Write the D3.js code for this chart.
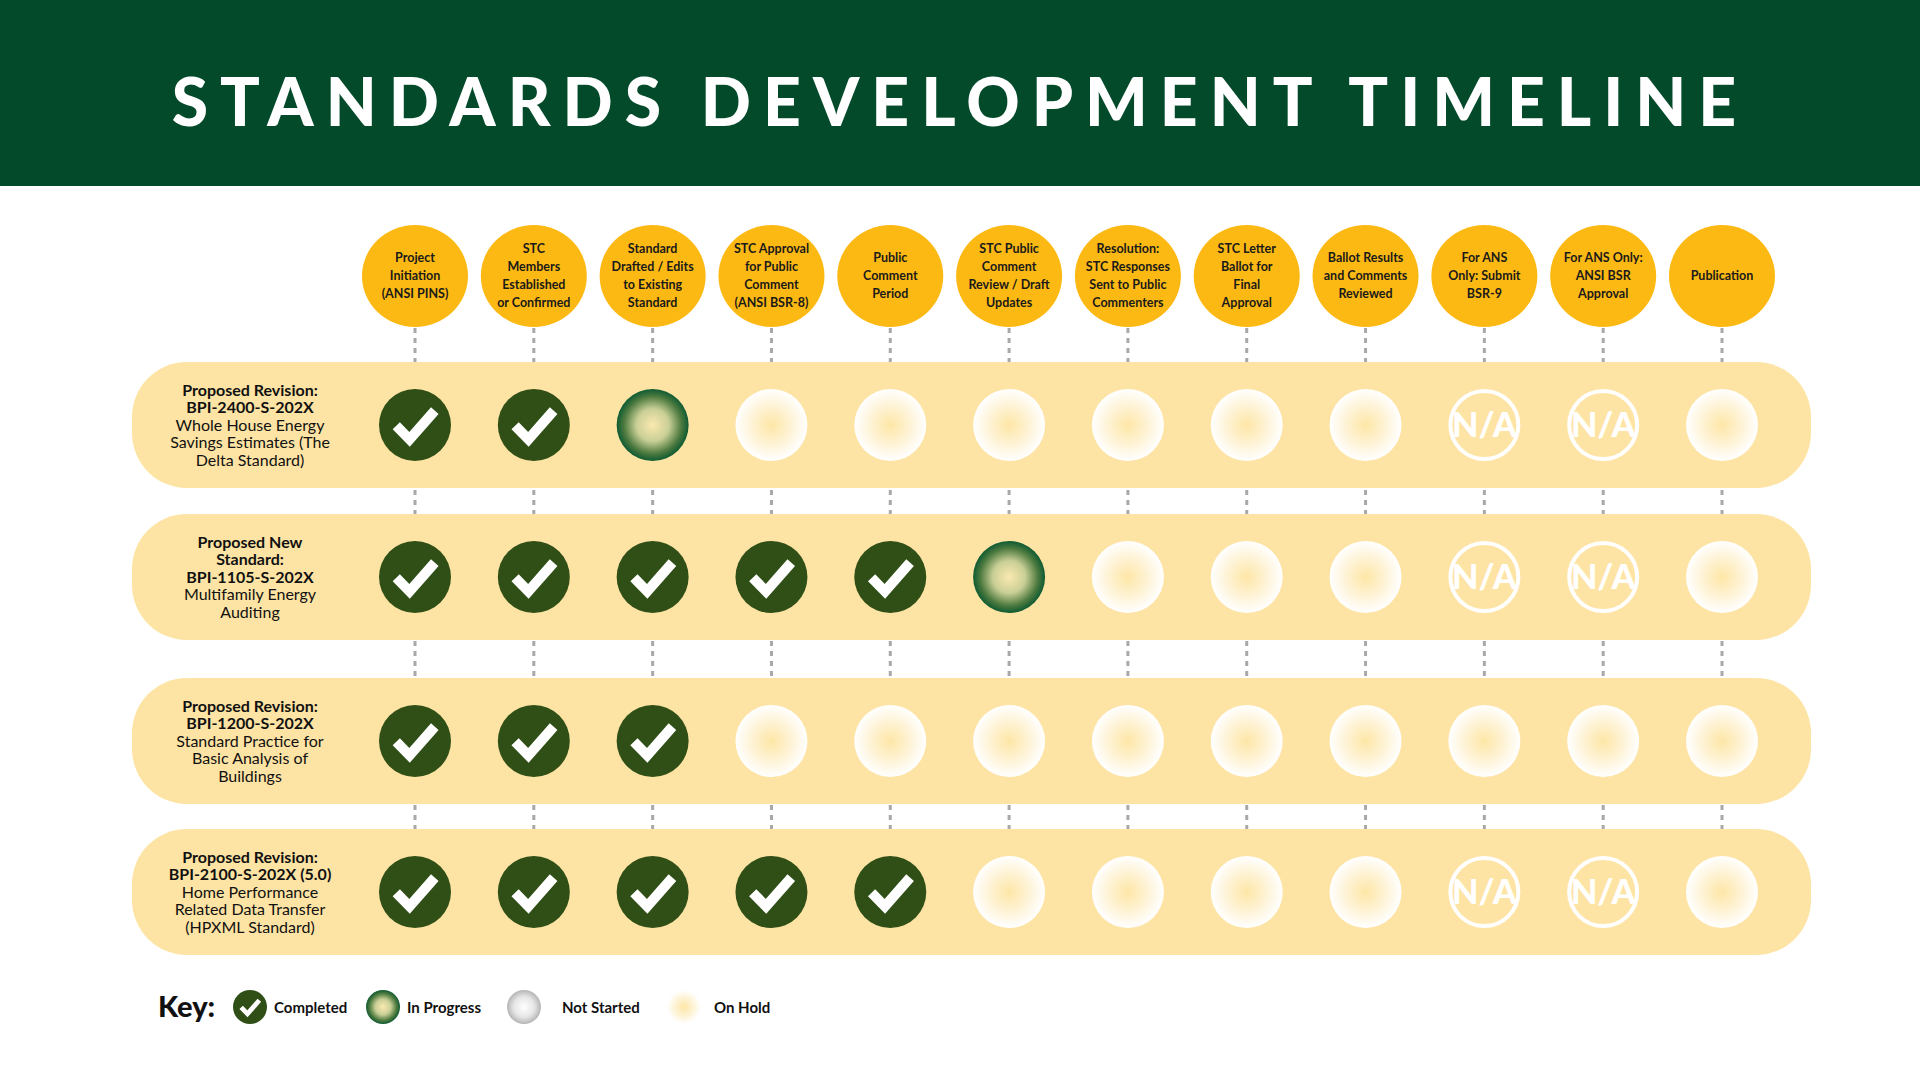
<!DOCTYPE html>
<html><head><meta charset="utf-8">
<script src="https://cdn.jsdelivr.net/npm/d3@7"></script>
<style>body{margin:0;background:#fff}svg{display:block}</style>
</head><body>
<svg id="c" width="1920" height="1080"></svg>
<script>
const title = "STANDARDS DEVELOPMENT TIMELINE";
const steps = [
 ["Project","Initiation","(ANSI PINS)"],
 ["STC","Members","Established","or Confirmed"],
 ["Standard","Drafted / Edits","to Existing","Standard"],
 ["STC Approval","for Public","Comment","(ANSI BSR-8)"],
 ["Public","Comment","Period"],
 ["STC Public","Comment","Review / Draft","Updates"],
 ["Resolution:","STC Responses","Sent to Public","Commenters"],
 ["STC Letter","Ballot for","Final","Approval"],
 ["Ballot Results","and Comments","Reviewed"],
 ["For ANS","Only: Submit","BSR-9"],
 ["For ANS Only:","ANSI BSR","Approval"],
 ["Publication"]
];
const projects = [
 {bold:["Proposed Revision:","BPI-2400-S-202X"], normal:["Whole House Energy","Savings Estimates (The","Delta Standard)"]},
 {bold:["Proposed New","Standard:","BPI-1105-S-202X"], normal:["Multifamily Energy","Auditing"]},
 {bold:["Proposed Revision:","BPI-1200-S-202X"], normal:["Standard Practice for","Basic Analysis of","Buildings"]},
 {bold:["Proposed Revision:","BPI-2100-S-202X (5.0)"], normal:["Home Performance","Related Data Transfer","(HPXML Standard)"]}
];
// C=completed, P=in progress, H=on hold, N=not applicable
const status = [
 ["C","C","P","H","H","H","H","H","H","N","N","H"],
 ["C","C","C","C","C","P","H","H","H","N","N","H"],
 ["C","C","C","H","H","H","H","H","H","H","H","H"],
 ["C","C","C","C","C","H","H","H","H","N","N","H"]
];
const legend = [["C","Completed"],["P","In Progress"],["S","Not Started"],["H","On Hold"]];

const svg = d3.select("#c");
const F = "Lato, 'Open Sans', sans-serif";
const defs = svg.append("defs");
function rg(id, stops){const g=defs.append("radialGradient").attr("id",id);stops.forEach(s=>g.append("stop").attr("offset",s[0]).attr("stop-color",s[1]));}
rg("hold",[[0,"#fde6a6"],[0.55,"#fef3d6"],[1,"#ffffff"]]);
rg("prog",[[0,"#fbe9b0"],[0.45,"#c9cf96"],[0.8,"#4d7a3f"],[1,"#0e5a32"]]);
rg("ns",[[0,"#ffffff"],[0.6,"#e6e6e6"],[1,"#b5b5b5"]]);

svg.append("rect").attr("width",1920).attr("height",186).attr("fill","#034a2a");
svg.append("text").attr("x",960).attr("y",100).attr("text-anchor","middle").attr("dominant-baseline","central")
 .attr("fill","#fff").attr("font-family",F).attr("font-weight",900).attr("font-size",66).attr("letter-spacing",12).text(title);

const x = d3.scalePoint().domain(d3.range(steps.length)).range([415,1722]);
const rowY = [425,577,741,892];
const y = i=>rowY[i];

// dotted connectors
const segs=[[328,362],[490,514],[641,677],[805,829]];
steps.forEach((s,i)=>segs.forEach(sg=>svg.append("line").attr("x1",x(i)).attr("x2",x(i)).attr("y1",sg[0]).attr("y2",sg[1])
 .attr("stroke","#a8a8a8").attr("stroke-width",3).attr("stroke-dasharray","5,5")));

// header circles
const hg = svg.selectAll("g.h").data(steps).join("g").attr("transform",(d,i)=>`translate(${x(i)},276)`);
hg.append("ellipse").attr("rx",53).attr("ry",51).attr("fill","#fdb913");
hg.each(function(d){const g=d3.select(this);const lh=18;d.forEach((t,k)=>g.append("text").attr("y",(k-(d.length-1)/2)*lh).attr("dy","0.35em")
 .attr("text-anchor","middle").attr("font-family",F).attr("font-weight",700).attr("font-size",12.5).attr("fill","#1a1a1a").text(t));});

// row bands
rowY.forEach((cy,r)=>{
 svg.append("rect").attr("x",132).attr("y",cy-63).attr("width",1679).attr("height",126).attr("rx",55).attr("fill","#fee4a4");
 const p=projects[r];const lines=p.bold.map(t=>[t,700]).concat(p.normal.map(t=>[t,400]));
 lines.forEach((l,k)=>svg.append("text").attr("x",250).attr("y",cy+(k-(lines.length-1)/2)*17.5).attr("dy","0.35em")
  .attr("text-anchor","middle").attr("font-family",F).attr("font-weight",l[1]).attr("font-size",16).attr("fill","#111").text(l[0]));
});

function mark(g, s, r){
 if(s==="C"){
  g.append("circle").attr("r",r).attr("fill","#2f4f17");
  g.append("path").attr("d",`M${-r*0.52},${r*0.02} L${-r*0.15},${r*0.4} L${r*0.55},${-r*0.4}`).attr("fill","none")
   .attr("stroke","#fff").attr("stroke-width",r*0.28);
 } else if(s==="P"){ g.append("circle").attr("r",r).attr("fill","url(#prog)");
 } else if(s==="S"){ g.append("circle").attr("r",r).attr("fill","url(#ns)");
 } else if(s==="H"){ g.append("circle").attr("r",r).attr("fill","url(#hold)");
 } else {
  g.append("circle").attr("r",r-2).attr("fill","none").attr("stroke","#fff").attr("stroke-width",4);
  g.append("text").attr("dy","0.36em").attr("text-anchor","middle").attr("font-family",F).attr("font-weight",900)
   .attr("font-size",r*0.95).attr("fill","#fff").text("N/A");
 }
}
status.forEach((row,r)=>row.forEach((s,i)=>{mark(svg.append("g").attr("transform",`translate(${x(i)},${y(r)})`),s,36);}));

// legend
svg.append("text").attr("x",158).attr("y",1007).attr("dy","0.35em").attr("font-family",F).attr("font-weight",900).attr("font-size",29).attr("fill","#111").text("Key:");
const lx=[250,383,524,684];
legend.forEach((l,k)=>{mark(svg.append("g").attr("transform",`translate(${lx[k]},1007)`),l[0],17);
 svg.append("text").attr("x",lx[k]+(k===3?30:24)+(k===2?14:0)).attr("y",1008).attr("dy","0.35em").attr("font-family",F).attr("font-weight",700).attr("font-size",15).attr("fill","#111").text(l[1]);});
</script>
</body></html>
